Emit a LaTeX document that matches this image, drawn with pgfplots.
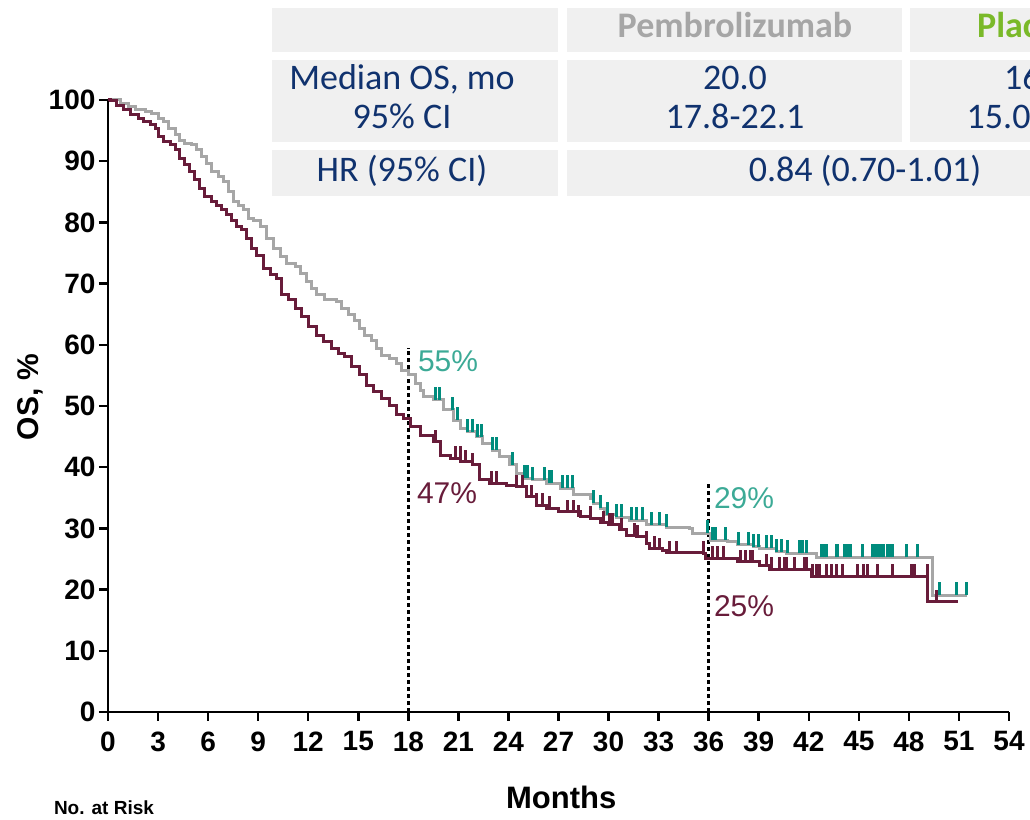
\documentclass[border=0pt]{standalone}
\usepackage{fontspec}
\setmainfont{Liberation Sans}
\newfontfamily\calfont{Carlito}
\usepackage{pgfplots}
\pgfplotsset{compat=1.18}
\definecolor{pgrey}{RGB}{166,166,166}
\definecolor{pmar}{RGB}{104,28,58}
\definecolor{pteal}{RGB}{0,140,125}
\definecolor{lteal}{RGB}{60,170,150}
\definecolor{navy}{RGB}{16,50,110}
\definecolor{cellg}{RGB}{240,240,240}
\definecolor{pgreen}{RGB}{122,185,41}
\pgfdeclareplotmark{cens}{\pgfpathmoveto{\pgfqpoint{0pt}{0pt}}\pgfpathlineto{\pgfqpoint{0pt}{\pgfplotmarksize}}\pgfusepathqstroke}
\begin{document}
\begin{tikzpicture}
\begin{scope}[x=1pt,y=1pt]
\clip (0,0) rectangle (1030,819);
\fill[cellg] (272,767) rectangle (558,811);
\fill[cellg] (567,767) rectangle (902,811);
\fill[cellg] (910,767) rectangle (1162,811);
\fill[cellg] (272,677) rectangle (558,759);
\fill[cellg] (567,677) rectangle (902,759);
\fill[cellg] (910,677) rectangle (1162,759);
\fill[cellg] (272,623) rectangle (558,669);
\fill[cellg] (567,623) rectangle (1162,669);
\begin{scope}[every node/.style={inner sep=0pt, anchor=base, font=\calfont\fontsize{36}{36}\selectfont, text=navy}]
\node[text=pgrey, font=\calfont\fontsize{36}{36}\selectfont\bfseries] at (735,781) {Pembrolizumab};
\node[text=pgreen, font=\calfont\fontsize{36}{36}\selectfont\bfseries] at (1036,781) {Placebo};
\node at (402,729) {Median OS, mo};
\node at (402,690) {95\% CI};
\node at (735,729) {20.0};
\node at (735,690) {17.8-22.1};
\node at (1036,729) {16.7};
\node at (1036,690) {15.0-18.7};
\node at (402,637) {HR (95\% CI)};
\node at (865,637) {0.84 (0.70-1.01)};
\end{scope}
\node[font=\fontsize{19}{19}\selectfont\bfseries, inner sep=0pt] at (104,11) {No. at Risk};
\end{scope}
\begin{axis}[at={(108pt,107pt)}, anchor=south west, scale only axis,
  width=901pt, height=612pt, xmin=0, xmax=54, ymin=0, ymax=100,
  axis lines=left, axis line style={-, line width=2.5pt, black},
  xtick={0,3,...,54}, ytick={0,10,...,100},
  tick align=outside, major tick length=9pt,
  tick style={line width=2.5pt, black},
  ticklabel style={font=\fontsize{28}{28}\selectfont\bfseries},
  xticklabel style={yshift=-7pt},
  /pgf/number format/assume math mode=true,
  xlabel={Months}, ylabel={OS, \%},
  xlabel style={font=\fontsize{31}{31}\selectfont\bfseries, at={(axis description cs:0.503,-0.139)}, anchor=center},
  ylabel style={font=\fontsize{30}{30}\selectfont\bfseries, at={(axis description cs:-0.0866,0.515)}, anchor=center},
  clip=false]
\addplot[black, line width=2.5pt, dash pattern=on 4pt off 3pt] coordinates {(18,0)(18,59.5)};
\addplot[black, line width=2.5pt, dash pattern=on 4pt off 3pt] coordinates {(36,0)(36,37.4)};
% Pembrolizumab
\addplot[const plot, pgrey, line width=3pt] coordinates {
(0,100)(0.72,99.46)(1.22,98.91)(1.62,98.37)(2.22,98.20)(2.62,97.82)(3.01,97.00)(3.31,96.46)
(3.61,95.37)(4.02,94.28)(4.31,93.46)(4.61,92.92)(5.02,92.65)(5.32,91.83)(5.62,90.74)(5.92,89.65)
(6.21,88.29)(6.61,87.47)(6.91,86.65)(7.21,85.02)(7.51,83.38)(7.81,82.84)(8.11,82.03)(8.41,80.67)
(8.71,80.39)(9.11,79.30)(9.51,77.40)(9.91,75.76)(10.31,74.40)(10.71,73.31)(11.21,72.76)(11.51,71.68)
(11.91,70.31)(12.21,69.23)(12.51,68.14)(13.00,67.32)(13.71,67.04)(14.01,65.96)(14.40,64.87)
(14.80,64.05)(15.10,62.69)(15.40,61.60)(15.80,60.78)(16.10,59.42)(16.40,58.33)(16.90,57.79)
(17.30,56.97)(17.60,55.88)(18.00,55.07)(18.40,53.70)(18.70,52.61)(18.88,51.52)(19.48,50.98)
(20.08,49.35)(20.68,47.71)(21.10,46.36)(21.52,45.80)
(22.11,44.98)(22.47,43.90)(23.07,42.81)(23.49,41.72)(24.09,40.36)(24.51,39.00)(24.87,38.19)
(25.47,37.91)(26.31,37.37)(27.09,36.55)(27.87,35.46)(28.89,34.92)(29.07,34.10)(29.49,33.28)
(29.78,32.19)(30.50,31.81)(31.28,31.37)(32.30,30.56)(33.50,30.18)(34.88,30.02)(35.06,29.20)
(36.08,28.10)(37.10,27.83)(37.70,27.29)(38.66,27.01)(39.07,26.75)(40.09,26.19)(40.69,25.93)
(42.25,25.82)(42.49,25.28)(49.44,19.10)(51.48,19.10)};
% Placebo
\addplot[const plot, pmar, line width=3pt] coordinates {
(0,100)(0.12,99.84)(0.52,99.18)(0.92,98.37)(1.32,97.55)(1.82,97.00)(2.12,96.46)(2.52,95.92)
(2.82,95.37)(3.01,94.01)(3.31,93.19)(3.72,92.65)(4.02,91.83)(4.31,90.47)(4.61,89.38)(4.91,88.29)
(5.21,86.93)(5.51,85.57)(5.81,84.20)(6.21,83.38)(6.51,82.84)(6.81,82.03)(7.11,81.21)(7.41,80.39)
(7.71,79.30)(8.01,78.76)(8.31,77.40)(8.61,75.76)(8.91,74.67)(9.31,72.50)(9.71,71.41)(10.11,70.86)
(10.41,68.14)(10.81,67.32)(11.21,65.96)(11.61,64.59)(12.00,62.96)(12.51,61.60)(12.91,60.51)
(13.41,59.42)(13.80,58.61)(14.20,58.06)(14.60,56.43)(15.10,55.07)(15.50,53.43)(15.90,52.34)
(16.40,51.25)(16.90,50.16)(17.30,48.53)(17.70,47.99)(18.10,46.62)(18.70,45.26)(19.48,44.17)
(19.90,41.99)(20.50,41.45)
(21.10,40.90)(21.87,40.36)(22.29,37.91)(22.89,37.37)(23.91,37.09)(24.51,36.81)(25.11,35.18)
(25.71,33.82)(26.31,33.28)(26.97,32.73)(28.29,31.91)(28.89,31.65)(29.49,30.93)(29.97,30.56)
(30.68,29.74)(31.10,28.92)(31.70,28.64)(32.30,27.57)(32.48,26.75)(33.26,26.47)(33.50,26.03)
(35.66,25.93)(35.78,25.16)(37.70,24.56)(39.07,23.86)(39.67,23.32)(42.19,22.22)(49.14,18.02)
(50.94,18.02)};
% censor marks pembrolizumab
\addplot[only marks, mark=cens, mark size=13pt, pteal, mark options={line width=3pt}] coordinates {
(19.60,50.98)(19.84,50.98)(20.62,49.35)(20.92,47.71)(21.52,45.80)(21.82,45.80)(22.17,44.98)(22.41,44.98)
(23.07,42.81)(23.31,42.81)(24.27,40.36)(24.99,38.19)(25.17,38.19)(25.47,37.91)(26.19,37.91)(26.61,37.37)
(26.49,37.37)(27.21,36.55)(27.51,36.55)(27.81,36.55)(29.07,34.10)(29.49,33.28)(29.96,32.19)(30.50,31.81)
(30.80,31.81)(31.40,31.37)(31.70,31.37)(32.06,31.37)(32.60,30.56)(33.08,30.56)(33.50,30.18)(35.90,29.20)
(36.20,28.10)(36.38,28.10)(36.98,28.10)(37.76,27.29)(38.36,27.29)(38.66,27.01)(38.96,27.01)(39.49,26.75)
(39.79,26.75)(40.09,26.19)(40.39,26.19)(40.75,25.93)(41.47,25.93)(41.65,25.93)(41.89,25.93)(42.79,25.28)
(42.97,25.28)(43.09,25.28)(43.69,25.28)(43.75,25.28)(44.17,25.28)(44.35,25.28)(44.47,25.28)(45.19,25.28)
(45.79,25.28)(45.97,25.28)(46.09,25.28)(46.27,25.28)(46.45,25.28)(46.69,25.28)(46.87,25.28)(46.99,25.28)
(47.88,25.28)(48.54,25.28)(49.86,19.10)(50.88,19.10)(51.48,19.10)};
% censor marks placebo
\addplot[only marks, mark=cens, mark size=12pt, pmar, mark options={line width=3pt}] coordinates {
(19.60,44.17)(20.80,41.45)(21.10,41.45)(21.40,40.90)(21.82,40.36)(23.01,37.37)(23.31,37.37)(24.51,36.81)
(24.87,36.81)(25.41,35.18)(25.71,33.82)(26.07,33.82)(26.49,33.28)(27.51,32.73)(27.87,32.73)(28.17,31.91)
(28.89,31.65)(29.67,30.93)(30.08,30.56)(30.26,30.56)(30.80,29.74)(31.58,28.92)(31.76,28.64)(32.30,27.57)
(32.78,26.75)(33.08,26.47)(33.68,26.03)(34.10,26.03)(35.66,25.93)(36.20,25.16)(36.50,25.16)(36.86,25.16)
(37.88,24.56)(38.18,24.56)(38.48,24.56)(38.60,24.56)(39.49,23.86)(39.79,23.32)(40.27,23.32)(40.57,23.32)
(40.69,23.32)(41.17,23.32)(41.77,23.32)(41.89,23.32)(42.25,22.22)(42.49,22.22)(42.67,22.22)(43.09,22.22)
(43.39,22.22)(43.69,22.22)(44.05,22.22)(44.89,22.22)(45.25,22.22)(45.49,22.22)(46.09,22.22)(46.99,22.22)
(48.18,22.22)(48.36,22.22)(49.14,22.22)(49.68,18.02)};
\node[text=lteal, font=\fontsize{30}{30}\selectfont] at (axis cs:20.38,57.35) {55\%};
\node[text=pmar, font=\fontsize{30}{30}\selectfont] at (axis cs:20.32,35.8) {47\%};
\node[text=lteal, font=\fontsize{30}{30}\selectfont] at (axis cs:38.12,35.0) {29\%};
\node[text=pmar, font=\fontsize{30}{30}\selectfont] at (axis cs:38.12,17.3) {25\%};
\end{axis}
\pgfresetboundingbox
\useasboundingbox (0pt,0pt) rectangle (1030pt,819pt);
\end{tikzpicture}
\end{document}
